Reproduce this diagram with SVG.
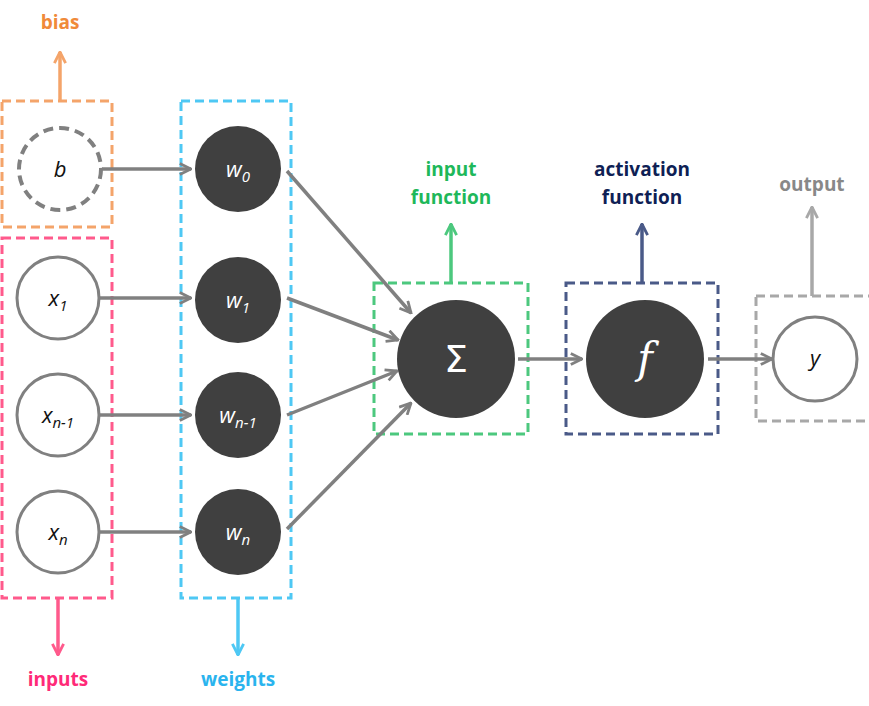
<svg xmlns="http://www.w3.org/2000/svg" width="869" height="706" viewBox="0 0 869 706">
<style>
.box{fill:none;stroke-width:3;stroke-dasharray:9,5}
.dark{fill:#404040}
.light{fill:#fff;stroke:#808080;stroke-width:3}
.c{stroke:#808080;stroke-width:3.5;fill:none}
.lbl{font-family:"Open Sans","Liberation Sans",sans-serif;font-weight:bold;font-size:19px;text-anchor:middle}
.it{font-family:"Open Sans","Liberation Sans",sans-serif;font-style:italic;font-size:22px;text-anchor:middle}
</style>
<defs>
<marker id="a" viewBox="0 0 10 10" refX="9" refY="5" markerWidth="4" markerHeight="4" orient="auto-start-reverse" markerUnits="strokeWidth"><path d="M1,1 L9,5 L1,9" fill="none" stroke="context-stroke" stroke-width="2"/></marker>
</defs>
<g id="bias-group">
<rect class="box" x="2" y="101" width="110" height="126" stroke="#f4a46a"/>
<line x1="60" y1="101" x2="60" y2="52" stroke="#f4a46a" stroke-width="3.5" marker-end="url(#a)"/>
<text class="lbl" x="60" y="29" fill="#f08a3a">bias</text>
</g>
<g id="inputs-group">
<rect class="box" x="2" y="238" width="110" height="360" stroke="#ff5a8c"/>
<line x1="58" y1="598" x2="58" y2="655" stroke="#ff5a8c" stroke-width="3.5" marker-end="url(#a)"/>
<text class="lbl" x="58" y="686" fill="#ff2a78">inputs</text>
</g>
<g id="weights-group">
<rect class="box" x="181" y="101" width="110" height="497" stroke="#4ec8f4"/>
<line x1="238" y1="598" x2="238" y2="655" stroke="#4ec8f4" stroke-width="3.5" marker-end="url(#a)"/>
<text class="lbl" x="238" y="686" fill="#2ab4ee">weights</text>
</g>
<g id="input-function-group">
<rect class="box" x="374" y="283" width="154" height="151" stroke="#4cc87e"/>
<line x1="451" y1="283" x2="451" y2="224" stroke="#4cc87e" stroke-width="3.5" marker-end="url(#a)"/>
<text class="lbl" x="451" y="176" fill="#1eb85a">input</text>
<text class="lbl" x="451" y="204" fill="#1eb85a">function</text>
</g>
<g id="activation-group">
<rect class="box" x="566" y="283" width="152" height="151" stroke="#4a5a88"/>
<line x1="642" y1="283" x2="642" y2="224" stroke="#4a5a88" stroke-width="3.5" marker-end="url(#a)"/>
<text class="lbl" x="642" y="176" fill="#0f1f55">activation</text>
<text class="lbl" x="642" y="204" fill="#0f1f55">function</text>
</g>
<g id="output-group">
<rect class="box" x="756" y="296" width="118" height="125" stroke="#a8a8a8"/>
<line x1="812" y1="296" x2="812" y2="207" stroke="#a8a8a8" stroke-width="3.5" marker-end="url(#a)"/>
<text class="lbl" x="812" y="191" fill="#888">output</text>
</g>
<g id="connectors">
<line class="c" x1="102" y1="169" x2="191" y2="169" marker-end="url(#a)"/>
<line class="c" x1="100" y1="298" x2="191" y2="298" marker-end="url(#a)"/>
<line class="c" x1="100" y1="415" x2="191" y2="415" marker-end="url(#a)"/>
<line class="c" x1="100" y1="532" x2="191" y2="532" marker-end="url(#a)"/>
<line class="c" x1="287" y1="171" x2="411" y2="313" marker-end="url(#a)"/>
<line class="c" x1="287" y1="298" x2="398" y2="340" marker-end="url(#a)"/>
<line class="c" x1="287" y1="415" x2="397" y2="371" marker-end="url(#a)"/>
<line class="c" x1="287" y1="529" x2="411" y2="403" marker-end="url(#a)"/>
<line class="c" x1="518" y1="359" x2="582" y2="359" marker-end="url(#a)"/>
<line class="c" x1="708" y1="359" x2="772" y2="359" marker-end="url(#a)"/>
</g>
<g id="b"><circle cx="60" cy="169" r="41" fill="#fff" stroke="#808080" stroke-width="4" stroke-dasharray="10,6"/><text class="it" x="60" y="177" fill="#111">b</text></g>
<g id="x1"><circle class="light" cx="58" cy="298" r="41"/><text class="it" x="58" y="306" fill="#111">x<tspan font-size="15" dy="5">1</tspan></text></g>
<g id="xn1"><circle class="light" cx="58" cy="415" r="41"/><text class="it" x="58" y="423" fill="#111">x<tspan font-size="15" dy="5">n-1</tspan></text></g>
<g id="xn"><circle class="light" cx="58" cy="532" r="41"/><text class="it" x="58" y="540" fill="#111">x<tspan font-size="15" dy="5">n</tspan></text></g>
<g id="w0"><circle class="dark" cx="238" cy="169" r="43"/><text class="it" x="238" y="177" fill="#fff">w<tspan font-size="15" dy="5">0</tspan></text></g>
<g id="w1"><circle class="dark" cx="238" cy="300" r="43"/><text class="it" x="238" y="308" fill="#fff">w<tspan font-size="15" dy="5">1</tspan></text></g>
<g id="wn1"><circle class="dark" cx="238" cy="415" r="43"/><text class="it" x="238" y="423" fill="#fff">w<tspan font-size="15" dy="5">n-1</tspan></text></g>
<g id="wn"><circle class="dark" cx="238" cy="532" r="43"/><text class="it" x="238" y="540" fill="#fff">w<tspan font-size="15" dy="5">n</tspan></text></g>
<g id="sigma"><circle class="dark" cx="456" cy="359" r="59"/><text x="456" y="372" font-family="'DejaVu Sans',sans-serif" font-size="38" fill="#fff" text-anchor="middle">Σ</text></g>
<g id="f"><circle class="dark" cx="645" cy="359" r="59"/><text x="645" y="373" font-family="'DejaVu Serif',serif" font-style="italic" font-size="42" fill="#fff" text-anchor="middle">f</text></g>
<g id="y"><circle class="light" cx="815" cy="359" r="42"/><text class="it" x="815" y="366" fill="#111">y</text></g>
</svg>
